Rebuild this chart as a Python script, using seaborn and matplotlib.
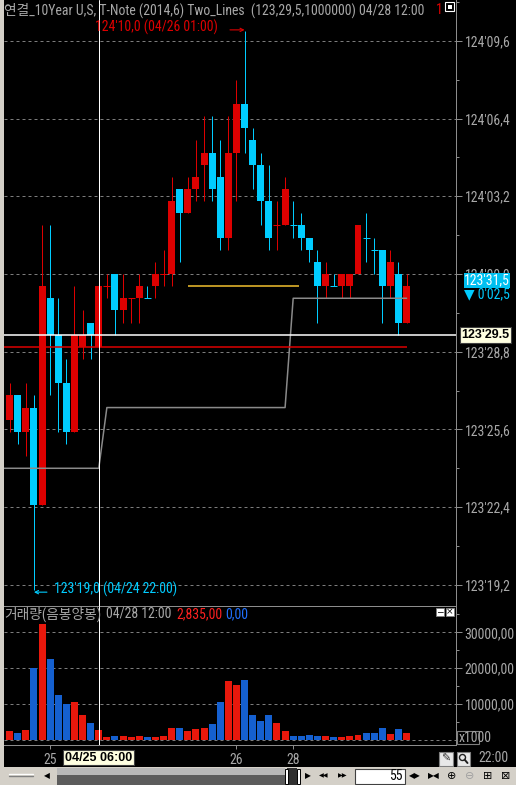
import seaborn as sns
import matplotlib.pyplot as plt
import matplotlib.font_manager as fm
import matplotlib.transforms as mtransforms
from matplotlib.patches import Rectangle, Circle
import numpy as np
import pandas as pd

# prices in 32nds above 123'00 (32 = 124'00)
open_ = [26.0, 27.0, 25.5, 26.5, 22.5, 31.0, 29.5, 27.5, 25.5, 29.0,
         30.0, 29.0, 31.5, 32.0, 30.5, 31.0, 31.0, 31.0, 31.5, 32.0,
         32.0, 35.5, 34.5, 35.5, 36.5, 37.0, 36.0, 33.5, 37.0, 39.0,
         37.5, 36.5, 35.0, 34.0, 34.0, 34.0, 34.0, 33.5, 32.5, 31.5,
         31.5, 31.5, 31.5, 32.0, 33.5, 33.0, 33.0, 31.5, 32.0, 30.0]
high = [27.5, 27.0, 27.5, 27.0, 34.0, 34.0, 31.0, 28.5, 31.5, 30.5,
        30.0, 31.5, 32.0, 32.0, 32.0, 31.0, 32.0, 31.5, 32.5, 33.0,
        36.0, 35.5, 36.0, 37.5, 38.5, 38.5, 37.5, 38.5, 40.0, 42.0,
        38.0, 37.0, 36.5, 35.0, 36.0, 35.0, 34.5, 33.5, 33.0, 32.5,
        32.0, 32.0, 32.0, 34.0, 34.5, 33.5, 33.0, 33.0, 32.5, 32.0]
low = [25.5, 25.0, 24.5, 19.0, 22.5, 27.0, 25.5, 25.0, 25.5, 28.5,
       28.5, 28.5, 31.0, 29.5, 30.0, 30.0, 30.0, 31.0, 31.0, 31.5,
       31.5, 32.5, 34.5, 35.0, 35.0, 35.0, 33.0, 33.0, 35.0, 37.0,
       35.5, 34.0, 33.0, 33.0, 34.0, 33.5, 33.0, 32.5, 30.0, 31.0,
       31.5, 31.0, 31.0, 32.0, 32.5, 32.0, 30.0, 31.0, 29.5, 30.0]
close = [27.0, 25.5, 26.5, 22.5, 31.5, 29.5, 27.5, 25.5, 29.5, 29.5,
         29.5, 31.5, 31.5, 30.5, 31.0, 31.0, 31.5, 31.0, 32.0, 32.0,
         35.0, 34.5, 35.5, 36.0, 37.0, 35.5, 33.5, 37.0, 39.0, 38.0,
         36.5, 35.0, 33.5, 34.0, 35.5, 34.0, 33.5, 33.0, 31.5, 32.0,
         31.5, 32.0, 32.0, 34.0, 33.5, 33.0, 31.5, 32.5, 30.0, 31.5]
up = [1, 0, 1, 0, 1, 0, 0, 0, 1, 1, 0, 1, 1, 0, 1, 1, 1, 0, 1, 1,
      1, 0, 1, 1, 1, 0, 0, 1, 1, 0, 0, 0, 0, 1, 1, 0, 0, 0, 0, 1,
      0, 1, 1, 1, 0, 0, 0, 1, 0, 1]
volume = [2300, 2000, 2800, 20000, 32200, 22600, 12400, 10100, 10400, 7000,
          4800, 2800, 700, 1000, 1000, 700, 1000, 700, 700, 1000,
          3400, 3400, 2500, 3100, 3400, 4500, 10400, 16300, 15200, 16600,
          7000, 5300, 6800, 4800, 2500, 1000, 1000, 1200, 1000, 1000,
          700, 700, 1000, 1400, 2000, 2000, 3400, 1700, 3100, 2000]
# Two_Lines indicator, first value is the bar just left of the window
two_lines = [24.0, 24.0, 24.0, 24.0, 24.0, 24.0, 24.0, 24.0, 24.0, 24.0, 24.0, 24.0, 24.0,
             26.5, 26.5, 26.5, 26.5, 26.5, 26.5, 26.5, 26.5, 26.5, 26.5, 26.5, 26.5,
             26.5, 26.5, 26.5, 26.5, 26.5, 26.5, 26.5, 26.5, 26.5, 26.5, 26.5,
             31.0, 31.0, 31.0, 31.0, 31.0, 31.0, 31.0, 31.0, 31.0, 31.0, 31.0,
             31.0, 31.0, 31.0, 31.0]
price_ticks = [19.2, 22.4, 25.6, 28.8, 32.0, 35.2, 38.4, 41.6]
vol_ticks = [0, 10000, 20000, 30000]
xtick_pos = [5, 28, 35]
xtick_labels = ['25', '26', '28']
white_level = 29.5
red_level = 29.0
yellow_level = 31.5
yellow_span = (22.0, 35.7)
cross_bar = 11
cross_label = '04/25 06:00'
max_time = '04/26 01:00'
min_time = '04/24 22:00'
change_label = "\u25bc 0'02,5"

RED, CYAN = '#dd0000', '#00ccff'
VRED, VBLUE = '#e8180c', '#1560d0'
GRAY, GRID, AXC = '#a8a8a8', '#7c7c7c', '#8c8c8c'
PX = 0.72

sns.set_theme(style='dark', rc={'axes.facecolor': 'black', 'figure.facecolor': 'black',
                                'axes.grid': False})
fonts = fm.fontManager.ttflist
avail = {f.name for f in fonts}
if 'Liberation Sans Narrow' in avail:
    base, FS, stretch = 'Liberation Sans Narrow', 9.6, 'normal'
elif 'Roboto Condensed' in avail:
    base, FS, stretch = 'Roboto Condensed', 9.9, 'normal'
elif any(f.name == 'DejaVu Sans' and f.stretch == 'condensed' for f in fonts):
    base, FS, stretch = 'DejaVu Sans', 9.3, 'condensed'
else:
    base, FS, stretch = 'DejaVu Sans', 7.6, 'normal'
plt.rcParams['font.family'] = [base, 'DejaVu Sans', 'Noto Sans CJK KR']
plt.rcParams['font.stretch'] = stretch
BOLD = ['Liberation Sans', 'DejaVu Sans']


def fmt32(p, sep=','):
    whole = 123 + int(p // 32)
    frac = p - 32 * (p // 32)
    return f"{whole}'{frac:04.1f}".replace('.', sep)


W, H = 516, 785
fig = plt.figure(figsize=(W / 100, H / 100), dpi=100, facecolor='black')


def px_axes(x0, y0, x1, y1):
    return fig.add_axes([x0 / W, 1 - y1 / H, (x1 - x0) / W, (y1 - y0) / H])


ax = px_axes(4, 0, 456, 606)
axv = px_axes(4, 606, 456, 745)

x = np.arange(len(close))
o, c = np.array(open_), np.array(close)
col = np.where(np.array(up) == 1, RED, CYAN)

# candles
ax.vlines(x, low, high, colors=col, lw=PX, zorder=2)
body_lo = np.minimum(o, c)
body_h = np.abs(c - o)
ax.bar(x, body_h, bottom=body_lo, width=0.86, color=col, lw=0, zorder=2)
doji = body_h == 0
ax.hlines(c[doji], x[doji] - 0.43, x[doji] + 0.43, colors=col[doji], lw=PX, zorder=2)

# overlay lines
sns.lineplot(x=np.arange(-1, len(close)), y=two_lines, ax=ax, color='#8a8a8a', lw=1.1, zorder=4)
ax.axhline(white_level, color='white', lw=1.1, zorder=4)
ax.hlines(red_level, -1, x[-1], color=RED, lw=1.1, zorder=4)
ax.hlines(yellow_level, *yellow_span, color='#f2c12e', lw=1.1, zorder=4)
ax.axvline(cross_bar, color='white', lw=PX, zorder=5)
ax.set_xlabel('')
ax.set_ylabel('')

# high / low annotations
imax, imin = int(np.argmax(high)), int(np.argmin(low))
hmax, lmin = high[imax], low[imin]
ax.annotate('', xy=(imax, hmax + 0.05), xytext=(imax - 1.8, hmax + 0.05),
            arrowprops=dict(arrowstyle='->', color=RED, lw=0.8, shrinkA=0, shrinkB=0,
                            mutation_scale=6), zorder=6)
ax.text(imax - 3.3, hmax + 0.17, f'{fmt32(hmax)} ({max_time})', color=RED, fontsize=FS,
        ha='right', va='center', zorder=6)
ax.annotate('', xy=(imin, lmin - 0.1), xytext=(imin + 1.6, lmin - 0.1),
            arrowprops=dict(arrowstyle='->', color=CYAN, lw=0.8, shrinkA=0, shrinkB=0,
                            mutation_scale=6), zorder=6)
ax.text(imin + 2.5, lmin, f'{fmt32(lmin)} ({min_time})', color=CYAN, fontsize=FS,
        ha='left', va='center', zorder=6)

# price axis
ax.yaxis.tick_right()
ax.set_yticks(price_ticks)
ax.set_yticklabels([fmt32(p) for p in price_ticks])
ax.set_yticks([p + 1.6 for p in price_ticks] + [price_ticks[0] - 1.6], minor=True)
ax.set_xticks([])
ax.tick_params(axis='y', which='major', right=True, left=False, length=4.3, width=PX,
               color=AXC, labelcolor=GRAY, labelsize=FS, pad=2.0)
ax.tick_params(axis='y', which='minor', right=True, left=False, length=2.5, width=PX, color=AXC)
ax.grid(axis='y', which='major', color=GRID, lw=PX, linestyle=(0, (3, 3)))
ax.set_axisbelow(True)
for s in ['left', 'top', 'bottom']:
    ax.spines[s].set_visible(False)
ax.spines['right'].set_color(AXC)
ax.spines['right'].set_linewidth(PX)
ax.set_xlim(-0.70, 55.1)
ax.set_ylim(18.33, 43.28)

yt = ax.get_yaxis_transform()
ax.annotate(fmt32(close[-1]), xy=(1.018, close[-1]), xycoords=yt, xytext=(0, 6),
            textcoords='offset pixels', color='white', fontsize=FS, ha='left', va='center',
            annotation_clip=False, zorder=7,
            bbox=dict(boxstyle='square,pad=0.03', fc='#00c0f0', ec='none'))
ax.annotate(change_label, xy=(1.018, close[-1]), xycoords=yt, xytext=(0, -8),
            textcoords='offset pixels', color=CYAN, fontsize=FS, ha='left', va='center',
            annotation_clip=False, zorder=7)
ax.text(1.012, white_level, fmt32(white_level, '.'), transform=yt, color='black',
        fontsize=9, fontweight='bold', family=BOLD, stretch='normal', ha='left', va='center',
        clip_on=False, zorder=7,
        bbox=dict(boxstyle='square,pad=0.15', fc='#ffffe1', ec='#404040', lw=0.8))

# volume
df = pd.DataFrame({'bar': x, 'volume': volume,
                   'side': np.where(np.array(up) == 1, 'up', 'down')})
sns.barplot(data=df, x='bar', y='volume', hue='side', palette={'up': VRED, 'down': VBLUE},
            dodge=False, native_scale=True, width=0.86, saturation=1, errorbar=None,
            legend=False, linewidth=0, ax=axv)
axv.axvline(cross_bar, color='white', lw=PX, zorder=5)
axv.set_xlabel('')
axv.set_ylabel('')
axv.yaxis.tick_right()
axv.set_yticks(vol_ticks)
axv.set_yticklabels(['' if v == 0 else f'{v},00' for v in vol_ticks])
axv.set_yticks([v + 5000 for v in vol_ticks], minor=True)
axv.tick_params(axis='y', which='major', right=True, left=False, length=4.3, width=PX,
                color=AXC, labelcolor=GRAY, labelsize=FS, pad=2.0)
axv.tick_params(axis='y', which='minor', right=True, left=False, length=2.5, width=PX, color=AXC)
axv.set_xticks(xtick_pos, xtick_labels)
axv.tick_params(axis='x', bottom=True, length=3, width=PX, color=AXC, labelcolor=GRAY,
                labelsize=FS, pad=2.5)
axv.grid(axis='y', which='major', color=GRID, lw=PX, linestyle=(0, (3, 3)))
axv.set_axisbelow(True)
axv.spines['left'].set_visible(False)
for s in ['top', 'right', 'bottom']:
    axv.spines[s].set_color(AXC)
    axv.spines[s].set_linewidth(PX)
axv.set_xlim(-0.70, 55.1)
axv.set_ylim(-1480, 37350)
bt = mtransforms.blended_transform_factory(axv.transData, axv.transAxes)
axv.text(cross_bar, -0.09, cross_label, transform=bt, color='black', fontsize=9,
         fontweight='bold', family=BOLD, stretch='normal', ha='center', va='center',
         clip_on=False, zorder=7,
         bbox=dict(boxstyle='square,pad=0.15', fc='#ffffe1', ec='#404040', lw=0.8))

# window chrome drawn in pixel coordinates
ov = fig.add_axes([0, 0, 1, 1], facecolor='none')
ov.set_xlim(0, W)
ov.set_ylim(H, 0)
ov.axis('off')
ov.add_patch(Rectangle((0, 0), 3.5, 767, fc='#d4d0c8', ec='none'))
ov.text(4, 10, '연결_10Year U,S, T-Note (2014,6) Two_Lines  (123,29,5,1000000) 04/28 12:00',
        color=GRAY, fontsize=FS, ha='left', va='center')
ov.text(436, 10, '1', color=RED, fontsize=FS, ha='left', va='center')
ov.add_patch(Rectangle((443, 2), 11, 11, fc='black', ec='none'))
ov.add_patch(Rectangle((445, 2), 9, 9, fc='black', ec='white', lw=0.8))
ov.add_patch(Rectangle((447.5, 4.5), 4, 4, fc='white', ec='none'))

ov.text(4, 614, '거래량(음봉양봉)', color=GRAY, fontsize=FS, ha='left', va='center')
ov.text(106, 614, '04/28 12:00', color=GRAY, fontsize=FS, ha='left', va='center')
ov.text(176, 614, '2,835,00', color='#ff2020', fontsize=FS, ha='left', va='center')
ov.text(225, 614, '0,00', color='#2070ff', fontsize=FS, ha='left', va='center')
for bx, sym in [(436, '\u2212'), (446, '\u00d7')]:
    ov.add_patch(Rectangle((bx, 608), 8, 8, fc='white', ec='#808080', lw=0.6))
    ov.text(bx + 4, 612, sym, color='black', fontsize=6.5, family='DejaVu Sans',
            ha='center', va='center')
xbox = Rectangle((457, 731), 22, 13, fc='black', ec='#808080', lw=0.8)
ov.add_patch(xbox)
xt = ov.text(459, 738, 'x1000', color=GRAY, fontsize=FS, ha='left', va='center')
xt.set_clip_path(xbox)

ov.add_patch(Rectangle((439, 752), 14, 14, fc='#e8e8e8', ec='#808080', lw=0.8))
ov.text(446, 759, '\u270e', color='#303030', fontsize=8, family='DejaVu Sans',
        ha='center', va='center')
ov.add_patch(Rectangle((457, 752), 13, 14, fc='#e8e8e8', ec='#808080', lw=0.8))
ov.add_patch(Circle((462.5, 757.5), 3, fc='none', ec='#202020', lw=1))
ov.plot([464.6, 467.5], [759.6, 763], color='#202020', lw=1.4)
ov.text(493, 758, '22:00', color=GRAY, fontsize=FS, ha='center', va='center')

# scrollbar
ov.add_patch(Rectangle((0, 767), W, 18, fc='#d4d0c8', ec='none'))
ov.plot([9, 33], [773.5, 773.5], color='white', lw=1)
ov.plot([9, 33], [776, 776], color='#808080', lw=1)
ov.text(47, 776, '\u25c0', color='black', fontsize=5.5, family='DejaVu Sans',
        ha='center', va='center')
ov.add_patch(Rectangle((57, 768), 228, 17, fc='#b8b8b8', ec='none'))
ov.add_patch(Rectangle((57, 775), 228, 10, fc='#5c5c5c', ec='none'))
ov.add_patch(Rectangle((287, 768), 10, 17, fc='#303030', ec='none'))
for hx in (285, 297):
    ov.add_patch(Rectangle((hx, 769), 3, 15, fc='white', ec='black', lw=0.7))
ov.text(308, 776, '\u25b6', color='black', fontsize=5.5, family='DejaVu Sans',
        ha='center', va='center')
ov.text(324, 776, '\u25c0\u25c0', color='black', fontsize=4.5, family='DejaVu Sans',
        ha='center', va='center')
ov.text(343, 776, '\u25b6\u25b6', color='black', fontsize=4.5, family='DejaVu Sans',
        ha='center', va='center')
ov.add_patch(Rectangle((355, 768.5), 50, 15.5, fc='white', ec='#404040', lw=0.8))
ov.text(403, 776, '55', color='black', fontsize=FS, ha='right', va='center')
for ix, sym, cc in [(415, '\u25c0\u25b6', 'black'), (434, '\u25b6\u25c0', 'black'),
                    (452, '\u2295', 'black'), (470, '\u2296', '#a0a0a0'),
                    (488, '\u229e', 'black'), (506, '\u22a0', 'black')]:
    ov.text(ix, 776, sym, color=cc, fontsize=8 if len(sym) == 1 else 5.5,
            family='DejaVu Sans', ha='center', va='center')

fig.savefig('out.png', dpi=100, facecolor='black')
